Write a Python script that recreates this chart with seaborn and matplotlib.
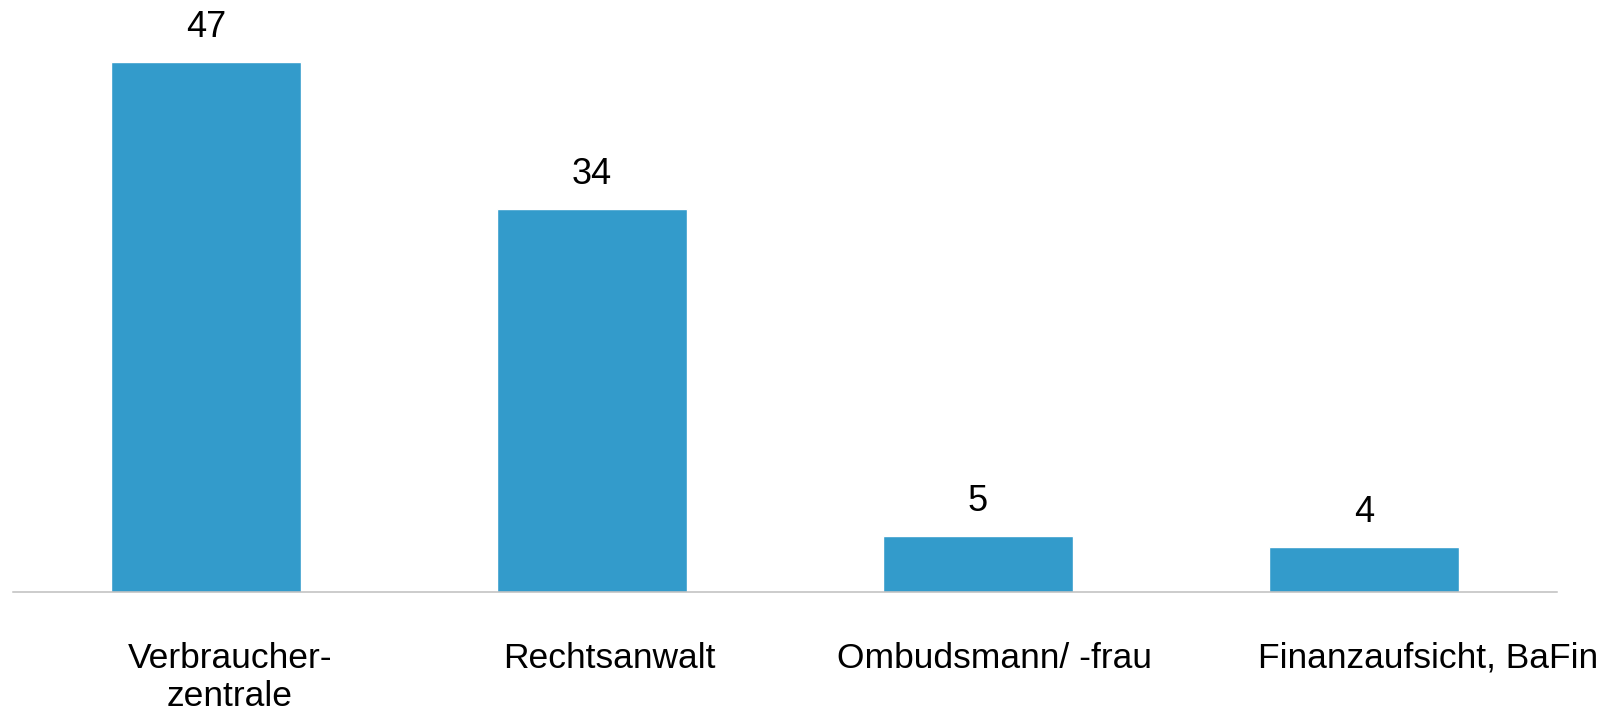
import matplotlib
matplotlib.use("Agg")
import matplotlib.pyplot as plt
import matplotlib.transforms as mtransforms
import pandas as pd
import seaborn as sns

# data
categories = ["Verbraucher-\nzentrale", "Rechtsanwalt", "Ombudsmann/ -frau", "Finanzaufsicht, BaFin"]
values = [47, 34, 5, 4]

df = pd.DataFrame({"kategorie": categories, "wert": values})

sns.set_style("white")
plt.rcParams["font.family"] = ["Liberation Sans", "DejaVu Sans"]
plt.rcParams["text.color"] = "black"
plt.rcParams["xtick.color"] = "black"

fig = plt.figure(figsize=(16.16, 7.11), dpi=100)
ax = fig.add_axes([13 / 1616, (711 - 592) / 711, 1544 / 1616, 592 / 711])

sns.barplot(data=df, x="kategorie", y="wert", color="#339BCB", width=0.49,
            saturation=1, ax=ax)

ax.set_xlim(-0.5, 3.5)
ax.set_ylim(0, 52.5)
ax.set_xlabel("")
ax.set_ylabel("")
ax.set_yticks([])

for s in ["top", "right", "left"]:
    ax.spines[s].set_visible(False)
ax.spines["bottom"].set_color("#BFBFBF")
ax.spines["bottom"].set_linewidth(1.1)

ax.tick_params(axis="x", length=0, pad=36, labelsize=25.5, labelcolor="black")

# Excel shifts the category labels a bit to the right
shifts = [24, 17, 17, 64]
for lab, dx in zip(ax.get_xticklabels(), shifts):
    lab.set_transform(lab.get_transform() + mtransforms.ScaledTranslation(dx / 100, 0, fig.dpi_scale_trans))

for c in ax.containers:
    ax.bar_label(c, labels=[str(v) for v in values], padding=12, fontsize=26, color="black")

fig.savefig("out.png", dpi=100, facecolor="white")
